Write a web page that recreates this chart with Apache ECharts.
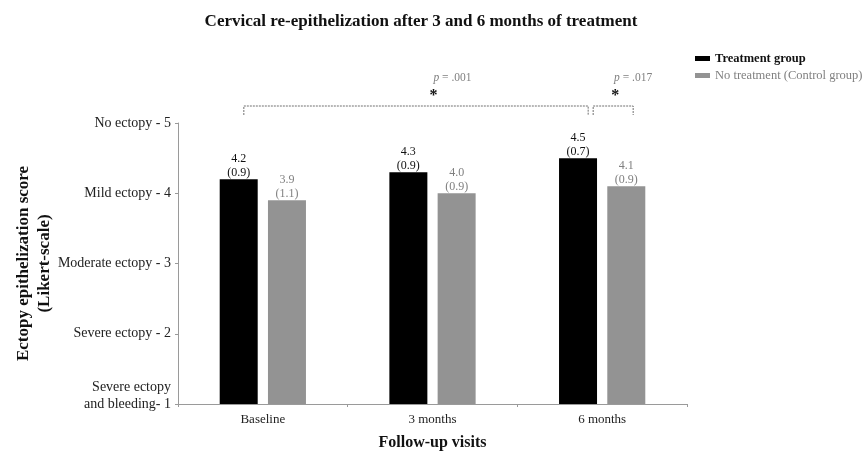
<!DOCTYPE html>
<html>
<head>
<meta charset="utf-8">
<script src="https://cdn.jsdelivr.net/npm/echarts@6/dist/echarts.min.js"></script>
<style>html,body{margin:0;padding:0;background:#fff}#c{width:864px;height:451px}</style>
</head>
<body>
<div id="c"></div>
<script>
const categories = ['Baseline', '3 months', '6 months'];
const treatmentMean = [4.2, 4.3, 4.5];
const treatmentSD = [0.9, 0.9, 0.7];
const controlMean = [3.9, 4.0, 4.1];
const controlSD = [1.1, 0.9, 0.9];
const yTickLabels = {
  1: 'Severe ectopy\nand bleeding- 1\n ',
  2: 'Severe ectopy - 2',
  3: 'Moderate ectopy - 3',
  4: 'Mild ectopy - 4',
  5: 'No ectopy - 5'
};
const seriesNames = ['Treatment group', 'No treatment (Control group)'];
const pValues = ['.001', '.017'];

const FONT = '"Liberation Serif", "Times New Roman", serif';
const BLACK = '#000000';
const GRAY = '#939393';
const GRAYTXT = '#808080';

const chart = echarts.init(document.getElementById('c'), null, {renderer: 'canvas'});

function lbl(sd) {
  return function (p) { return p.value.toFixed(1) + '\n(' + sd[p.dataIndex].toFixed(1) + ')'; };
}

const option = {
  backgroundColor: '#fff',
  animation: false,
  title: {
    text: 'Cervical re-epithelization after 3 and 6 months of treatment',
    left: 416, top: 8, textAlign: 'center',
    textStyle: {fontFamily: FONT, fontSize: 17, fontWeight: 'bold', color: '#111'}
  },
  legend: {
    orient: 'vertical', left: 690, top: 47,
    itemWidth: 15, itemHeight: 5, itemGap: 4,
    icon: 'rect',
    textStyle: {fontFamily: FONT, fontSize: 12.5},
    data: [
      {name: seriesNames[0], textStyle: {fontWeight: 'bold', color: '#111'}},
      {name: seriesNames[1], textStyle: {color: GRAYTXT}}
    ]
  },
  grid: {left: 178, right: 177, top: 123, bottom: 47, containLabel: false, outerBoundsMode: 'none'},
  xAxis: {
    type: 'category', data: categories,
    name: 'Follow-up visits', nameLocation: 'middle', nameGap: 31, nameMoveOverlap: false,
    nameTextStyle: {fontFamily: FONT, fontSize: 16, fontWeight: 'bold', color: '#111'},
    axisLine: {lineStyle: {color: '#9a9a9a', width: 1}},
    axisTick: {show: true, length: 3, lineStyle: {color: '#9a9a9a'}},
    axisLabel: {fontFamily: FONT, fontSize: 13, color: '#222', margin: 9}
  },
  yAxis: {
    type: 'value', min: 1, max: 5, interval: 1,
    name: 'Ectopy epithelization score\n(Likert-scale)',
    nameLocation: 'middle', nameGap: 123, nameRotate: 90, nameMoveOverlap: false,
    nameTextStyle: {fontFamily: FONT, fontSize: 17, fontWeight: 'bold', color: '#111', lineHeight: 21},
    axisLine: {show: true, lineStyle: {color: '#9a9a9a', width: 1}},
    axisTick: {show: true, length: 3, lineStyle: {color: '#9a9a9a'}},
    splitLine: {show: false},
    axisLabel: {
      fontFamily: FONT, fontSize: 14, color: '#222', margin: 7, lineHeight: 17,
      formatter: function (v) { return yTickLabels[v] || ''; }
    }
  },
  series: [
    {
      name: seriesNames[0], type: 'bar', data: treatmentMean,
      barWidth: 38, barGap: '27%',
      itemStyle: {color: BLACK},
      label: {show: true, position: 'top', distance: -1, formatter: lbl(treatmentSD),
        fontFamily: FONT, fontSize: 12, lineHeight: 14, color: '#111'}
    },
    {
      name: seriesNames[1], type: 'bar', data: controlMean,
      barWidth: 38,
      itemStyle: {color: GRAY},
      label: {show: true, position: 'top', distance: -1, formatter: lbl(controlSD),
        fontFamily: FONT, fontSize: 12, lineHeight: 14, color: GRAYTXT}
    }
  ]
};
chart.setOption(option);

function drawBrackets() {
  const cx = i => chart.convertToPixel({xAxisIndex: 0}, i);
  const yTop = chart.convertToPixel({yAxisIndex: 0}, 5);
  const half = 24;
  const y0 = yTop - 17, y1 = yTop - 8;
  const b1 = [cx(0) - half + 5, cx(2) - half + 10];
  const b2 = [cx(2) - half + 15, cx(2) + half + 7];
  const lineStyle = {stroke: '#707070', lineWidth: 1, lineDash: [2, 1], fill: null};
  const els = [];
  [b1, b2].forEach(function (b) {
    els.push({type: 'polyline', shape: {points: [[b[0], y1], [b[0], y0], [b[1], y0], [b[1], y1]]}, style: lineStyle, silent: true});
  });
  const star1x = cx(1) + 1, star2x = cx(2) + 13;
  const starStyle = {text: '*', fontFamily: FONT, fontSize: 16, fontWeight: 'bold', fill: '#111', align: 'center', verticalAlign: 'middle'};
  els.push({type: 'text', x: star1x, y: y0 - 10, style: starStyle});
  els.push({type: 'text', x: star2x, y: y0 - 10, style: Object.assign({}, starStyle)});
  const pStyle = function (x, v) {
    return {type: 'text', x: x, y: y0 - 28, style: {
      text: '{i|p} = ' + v, align: 'center', verticalAlign: 'middle',
      fontFamily: FONT, fontSize: 11.5, fill: GRAYTXT,
      rich: {i: {fontStyle: 'italic', fontFamily: FONT, fontSize: 11.5, fill: GRAYTXT}}
    }};
  };
  els.push(pStyle(cx(1) + 20, pValues[0]));
  els.push(pStyle(cx(2) + 31, pValues[1]));
  chart.setOption({graphic: {elements: els}});
}
drawBrackets();
</script>
</body>
</html>
